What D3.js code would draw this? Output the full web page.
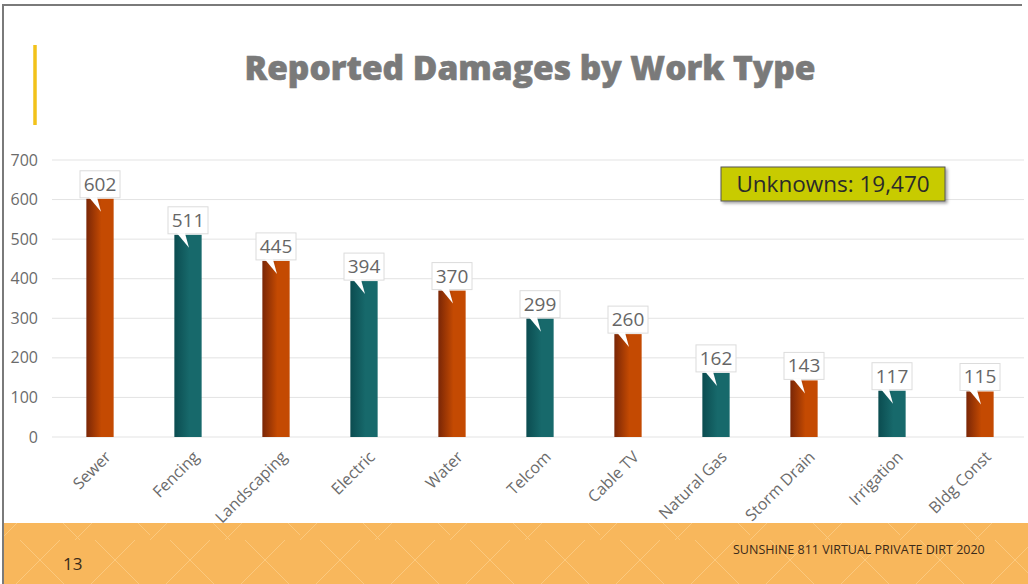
<!DOCTYPE html>
<html>
<head>
<meta charset="utf-8">
<script src="https://cdn.jsdelivr.net/npm/d3@7"></script>
<style>
  html, body { margin: 0; padding: 0; background: #fff; }
  svg text { font-family: "Open Sans", "Noto Sans", sans-serif; }
</style>
</head>
<body>
<div id="chart"></div>
<script>
// chart data
const workTypes = ["Sewer", "Fencing", "Landscaping", "Electric", "Water", "Telcom",
  "Cable TV", "Natural Gas", "Storm Drain", "Irrigation", "Bldg Const"];
const damages = [602, 511, 445, 394, 370, 299, 260, 162, 143, 117, 115];
const yTicks = [0, 100, 200, 300, 400, 500, 600, 700];
const unknownsLabel = "Unknowns: 19,470";
const slideNumber = "13";
const footerText = "SUNSHINE 811 VIRTUAL PRIVATE DIRT 2020";

const W = 1028, H = 584;
const margin = { top: 160, right: 4, bottom: 147, left: 56 };

const svg = d3.select("#chart").append("svg")
  .attr("width", W).attr("height", H);

const defs = svg.append("defs");
// bar gradients, darker on the left edge
const grads = { orange: ["#7a2606", "#c44a02"], teal: ["#0b4c50", "#17696b"] };
Object.entries(grads).forEach(([k, c]) => {
  const g = defs.append("linearGradient").attr("id", "g-" + k)
    .attr("x1", 0).attr("x2", 1).attr("y1", 0).attr("y2", 0);
  g.append("stop").attr("offset", "0%").attr("stop-color", c[0]);
  g.append("stop").attr("offset", "55%").attr("stop-color", c[1]);
  g.append("stop").attr("offset", "100%").attr("stop-color", c[1]);
});
// faint diagonal hatch for the footer band
const pat = defs.append("pattern").attr("id", "hatch")
  .attr("patternUnits", "userSpaceOnUse").attr("width", 150).attr("height", 60);
pat.append("rect").attr("width", 150).attr("height", 60).attr("fill", "#f8b75c");
pat.append("path").attr("d", "M0,60 L60,0 M75,60 L135,0")
  .attr("stroke", "#fbc97e").attr("stroke-width", 1);
pat.append("path").attr("d", "M20,0 L80,60 M95,0 L150,55")
  .attr("stroke", "#fbc97e").attr("stroke-width", 1);
const shadow = defs.append("filter").attr("id", "shadow")
  .attr("x", "-10%").attr("y", "-20%").attr("width", "130%").attr("height", "160%");
shadow.append("feDropShadow").attr("dx", 2).attr("dy", 2)
  .attr("stdDeviation", 1.5).attr("flood-color", "#000").attr("flood-opacity", 0.35);

// slide frame
svg.append("path").attr("d", `M3,${H} L3,5 L${W - 6},5`)
  .attr("fill", "none").attr("stroke", "#7a7a7a").attr("stroke-width", 2);

// accent bar + title
svg.append("line").attr("x1", 35).attr("x2", 35).attr("y1", 45).attr("y2", 125)
  .attr("stroke", "#f2c21a").attr("stroke-width", 3.5);
svg.append("text").attr("x", 530).attr("y", 80)
  .attr("text-anchor", "middle").attr("font-size", 33.5).attr("font-weight", 800)
  .attr("fill", "#7a7a7a").attr("stroke", "#7a7a7a").attr("stroke-width", 0.6)
  .text("Reported Damages by Work Type");

const x = d3.scaleBand().domain(workTypes)
  .range([margin.left, W - margin.right]).paddingInner(0.69).paddingOuter(0.345);
const y = d3.scaleLinear().domain([0, 700]).range([H - margin.bottom, margin.top]);

// gridlines
svg.append("g").selectAll("line").data(yTicks).join("line")
  .attr("x1", 52).attr("x2", W - 4)
  .attr("y1", d => y(d)).attr("y2", d => y(d))
  .attr("stroke", "#e3e3e3").attr("stroke-width", 1);

// y axis labels
const yAxis = svg.append("g").attr("transform", "translate(38,0)")
  .call(d3.axisLeft(y).tickValues(yTicks).tickSize(0).tickPadding(0));
yAxis.select(".domain").remove();
yAxis.selectAll("text").attr("font-size", 16).attr("fill", "#6b6b6b");

// x axis labels
const xAxis = svg.append("g").attr("transform", `translate(0,${y(0)})`)
  .call(d3.axisBottom(x).tickSize(0).tickPadding(0));
xAxis.select(".domain").remove();
xAxis.selectAll("text")
  .attr("font-size", 16).attr("fill", "#6b6b6b")
  .attr("text-anchor", "end")
  .attr("transform", "translate(8,17) rotate(-45)")
  .attr("dy", "0.35em").attr("y", 0);

// bars
svg.append("g").selectAll("rect").data(workTypes).join("rect")
  .attr("x", d => x(d))
  .attr("y", (d, i) => y(damages[i]))
  .attr("width", x.bandwidth())
  .attr("height", (d, i) => y(0) - y(damages[i]))
  .attr("fill", (d, i) => i % 2 === 0 ? "url(#g-orange)" : "url(#g-teal)");

// callout labels
const callouts = svg.append("g").selectAll("g").data(workTypes).join("g")
  .attr("transform", (d, i) => `translate(${x(d) + x.bandwidth() / 2},${y(damages[i])})`);
callouts.append("rect")
  .attr("x", -20).attr("y", -28).attr("width", 40).attr("height", 27)
  .attr("fill", "#fff").attr("stroke", "#dcdcdc").attr("stroke-width", 1);
callouts.append("path")
  .attr("d", "M-11,-1.5 L-3,-1.5 L1,13 Z")
  .attr("fill", "#fff");
callouts.append("text")
  .attr("y", -8).attr("text-anchor", "middle")
  .attr("font-size", 19).attr("fill", "#666")
  .text((d, i) => damages[i]);

// unknowns note
const note = svg.append("g").attr("transform", "translate(721,167)");
note.append("rect").attr("width", 224).attr("height", 34)
  .attr("fill", "#c8cb00").attr("stroke", "#555").attr("stroke-width", 1)
  .attr("filter", "url(#shadow)");
note.append("text").attr("x", 112).attr("y", 25).attr("text-anchor", "middle")
  .attr("font-size", 22.5).attr("fill", "#2a2a2a").text(unknownsLabel);

// footer band
svg.append("rect").attr("x", 4).attr("y", 523).attr("width", W - 4).attr("height", H - 523)
  .attr("fill", "url(#hatch)");
svg.append("text").attr("x", 63).attr("y", 570)
  .attr("font-size", 17).attr("fill", "#3a2a1a").text(slideNumber);
svg.append("text").attr("x", 733).attr("y", 554)
  .attr("font-size", 12.5).attr("fill", "#3a2a1a").text(footerText);
</script>
</body>
</html>
